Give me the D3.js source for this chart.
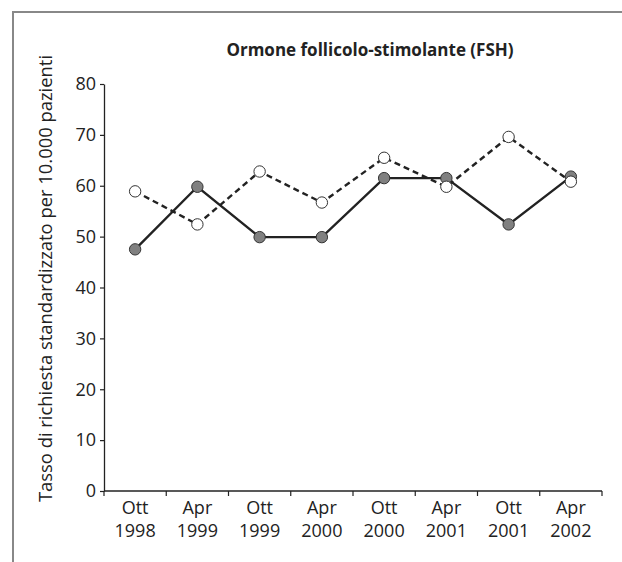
<!DOCTYPE html>
<html>
<head>
<meta charset="utf-8">
<script src="https://cdn.jsdelivr.net/npm/d3@7"></script>
<style>
  body { margin: 0; background: #fff; }
  svg { display: block; font-family: "Open Sans", sans-serif; }
</style>
</head>
<body>
<div id="chart"></div>
<script>
// periodi (mese / anno)
var months = ["Ott", "Apr", "Ott", "Apr", "Ott", "Apr", "Ott", "Apr"];
var years = ["1998", "1999", "1999", "2000", "2000", "2001", "2001", "2002"];
// serie piena (cerchi grigi) e serie tratteggiata (cerchi bianchi)
var serieGrigia = [47.5, 59.8, 49.9, 49.9, 61.5, 61.5, 52.4, 61.8];
var serieBianca = [58.9, 52.4, 62.8, 56.7, 65.5, 59.8, 69.6, 60.8];
var yTicks = [0, 10, 20, 30, 40, 50, 60, 70, 80];

var width = 622, height = 562;
var margin = { top: 84, right: 20, bottom: 71, left: 104 };

var categories = months.map(function(m, i) { return m + " " + years[i]; });

var svg = d3.select("#chart").append("svg")
    .attr("width", width)
    .attr("height", height);

// cornice
svg.append("path")
    .attr("d", "M13," + height + "V12H" + width)
    .attr("fill", "none")
    .attr("stroke", "#888")
    .attr("stroke-width", 2);

var x = d3.scaleBand()
    .domain(categories)
    .range([margin.left, width - margin.right])
    .padding(0);

var y = d3.scaleLinear()
    .domain([0, 80])
    .range([height - margin.bottom, margin.top]);

// asse y
var yAxis = svg.append("g")
    .attr("transform", "translate(" + margin.left + ",0)")
    .call(d3.axisLeft(y).tickValues(yTicks).tickSize(4).tickSizeOuter(0).tickPadding(4));
yAxis.select(".domain").attr("stroke", "#222").attr("stroke-width", 1.3);
yAxis.selectAll(".tick line").attr("stroke", "#222").attr("stroke-width", 1.2);
yAxis.selectAll(".tick text")
    .attr("fill", "#222")
    .style("font-size", "18px")
    .style("font-family", "'Open Sans', sans-serif");

// asse x
var xAxis = svg.append("g");
xAxis.append("line")
    .attr("x1", x.range()[0]).attr("x2", x.range()[1])
    .attr("y1", y(0)).attr("y2", y(0))
    .attr("stroke", "#222").attr("stroke-width", 1.3);

var bounds = categories.map(function(c) { return x(c); }).concat([x.range()[1]]);
xAxis.selectAll(".xtick")
    .data(bounds)
    .enter().append("line")
      .attr("class", "xtick")
      .attr("x1", function(d) { return d; })
      .attr("x2", function(d) { return d; })
      .attr("y1", y(0))
      .attr("y2", y(0) + 5)
      .attr("stroke", "#222").attr("stroke-width", 1.2);

var lbl = xAxis.selectAll(".xlabel")
    .data(categories)
    .enter().append("text")
      .attr("class", "xlabel")
      .attr("text-anchor", "middle")
      .attr("fill", "#222")
      .style("font-size", "18px");
lbl.append("tspan")
    .attr("x", function(d) { return x(d) + x.bandwidth() / 2; })
    .attr("y", y(0) + 23)
    .text(function(d, i) { return months[i]; });
lbl.append("tspan")
    .attr("x", function(d) { return x(d) + x.bandwidth() / 2; })
    .attr("y", y(0) + 46)
    .text(function(d, i) { return years[i]; });

// titolo asse y
svg.append("text")
    .attr("transform", "translate(52," + ((y(0) + y(80)) / 2 - 9) + ") rotate(-90)")
    .attr("text-anchor", "middle")
    .attr("fill", "#222")
    .style("font-size", "18.4px")
    .text("Tasso di richiesta standardizzato per 10.000 pazienti");

// titolo
svg.append("text")
    .attr("x", 370)
    .attr("y", 56)
    .attr("text-anchor", "middle")
    .attr("fill", "#222")
    .style("font-size", "17px")
    .style("font-weight", "bold")
    .text("Ormone follicolo-stimolante (FSH)");

var line = d3.line()
    .x(function(d, i) { return x(categories[i]) + x.bandwidth() / 2; })
    .y(function(d) { return y(d); });

function drawSerie(values, dash, fill) {
    svg.append("path")
        .datum(values)
        .attr("d", line)
        .attr("fill", "none")
        .attr("stroke", "#222")
        .attr("stroke-width", 2.4)
        .attr("stroke-dasharray", dash);

    svg.append("g").selectAll("circle")
        .data(values)
        .enter().append("circle")
          .attr("cx", function(d, i) { return x(categories[i]) + x.bandwidth() / 2; })
          .attr("cy", function(d) { return y(d); })
          .attr("r", 5.7)
          .attr("fill", fill)
          .attr("stroke", "#333")
          .attr("stroke-width", 1);
}

drawSerie(serieGrigia, null, "#808080");
drawSerie(serieBianca, "6,4", "#fff");
</script>
</body>
</html>
